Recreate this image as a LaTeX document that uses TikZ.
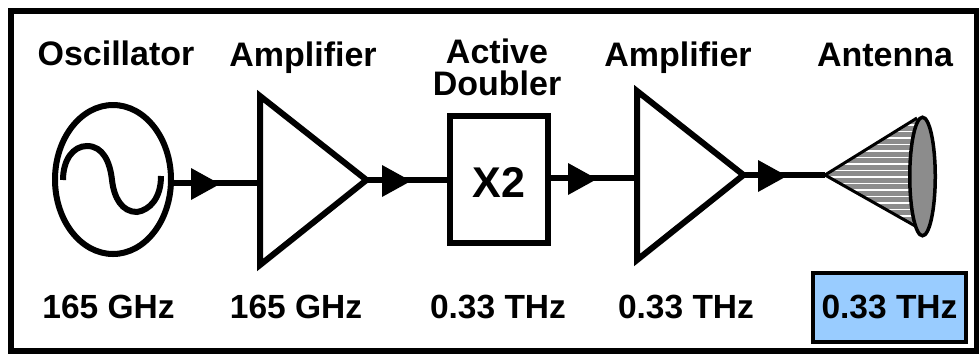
\documentclass[tikz,border=0pt]{standalone}
\usepackage{fontspec}
\setmainfont{Liberation Sans}
\usetikzlibrary{shapes.geometric}
\definecolor{freqblue}{HTML}{99CCFF}
\definecolor{horn}{HTML}{8C8C8C}
\tikzset{
  lbl/.style={font=\fontsize{34}{37}\selectfont\bfseries, anchor=base, inner sep=0pt},
  lblb/.style={font=\fontsize{33.5}{37}\selectfont\bfseries, anchor=base, inner sep=0pt},
  wire/.style={line width=6pt, black},
  outline/.style={line width=6pt, black, line join=miter},
  head/.style={fill=black, draw=none},
}
\newcommand{\headat}[2]{\fill[head] (#1,#2-16) -- (#1+29,#2) -- (#1,#2+16) -- cycle;}
\begin{document}
\begin{tikzpicture}[x=1pt,y=-1pt]
\useasboundingbox (0,0) rectangle (979,354);
\fill[white] (0,0) rectangle (979,354);
\draw[line width=6pt] (10.5,11) rectangle (977,351);

% coordinates
\coordinate (a1top) at (260,96);
\coordinate (a1bot) at (260,265);
\coordinate (a1in) at (260,183);
\coordinate (a1tip) at (366.5,180);
\coordinate (a2top) at (637,91);
\coordinate (a2bot) at (637,260);
\coordinate (a2in) at (637,178);
\coordinate (a2tip) at (743.5,175);
\coordinate (anttip) at (825,175);

% oscillator
\node[ellipse, draw, line width=6pt, minimum width=116pt, minimum height=149pt, inner sep=0pt, outer sep=0pt] (osc) at (113,179.5) {};
\draw[line width=6pt] (63,180) .. controls (63,160) and (73,146) .. (87,146)
   .. controls (103,146) and (110,162) .. (112,180)
   .. controls (114,198) and (122,212) .. (137,212)
   .. controls (150,210) and (161,198) .. (161,176);

% doubler
\node[draw, line width=6pt, minimum width=98pt, minimum height=127pt, inner sep=0pt, outer sep=0pt] (dbl) at (499,179.5) {};
\node[font=\fontsize{43}{43}\selectfont\bfseries, anchor=base, inner sep=0pt] (x2) at (499,197) {X2};

% wires
\draw[wire] (osc.east |- a1in) -- (a1in);
\draw[wire] (a1tip) -- (dbl.west |- a1tip);
\draw[wire] (dbl.east |- a2in) -- (a2in);
\draw[wire] (a2tip) -- (anttip);

% amplifiers
\draw[outline,fill=white] (a1top) -- (a1tip) -- (a1bot) -- cycle;
\draw[outline,fill=white] (a2top) -- (a2tip) -- (a2bot) -- cycle;

% arrowheads
\headat{191}{184}
\headat{382}{181}
\headat{568}{179}
\headat{758}{176}

% antenna
\begin{scope}
  \clip (anttip) -- (917,118) -- (917,227) -- cycle;
  \fill[horn] (820,110) rectangle (925,240);
  \foreach \yy in {125,131.5,...,225} \draw[white,line width=1.1pt] (820,\yy) -- (925,\yy);
\end{scope}
\draw[line width=3pt,line join=round] (917,118) -- (anttip) -- (917,227);
\node[ellipse, draw, line width=3.5pt, fill=horn, minimum width=25.5pt, minimum height=118.5pt, inner sep=0pt] (dish) at (922.5,176.5) {};

% freq box
\node[draw, line width=4pt, fill=freqblue, minimum width=153pt, minimum height=69pt, inner sep=0pt, outer sep=0pt] (fbox) at (889.5,307.5) {};

% labels
\node[lbl] (t1) at (116,65.5) {Oscillator};
\node[lbl] (t2) at (303,66) {Amplifier};
\node[lbl] (t3a) at (497,63) {Active};
\node[lbl] (t3b) at (497,95) {Doubler};
\node[lbl] (t4) at (678,66) {Amplifier};
\node[lbl] (t5) at (885,66) {Antenna};
\node[lblb] (b1) at (108.5,318) {165 GHz};
\node[lblb] (b2) at (296,318) {165 GHz};
\node[lblb] (b3) at (498,318) {0.33 THz};
\node[lblb] (b4) at (686,318) {0.33 THz};
\node[lblb] (b5) at (889.5,318) {0.33 THz};
\end{tikzpicture}
\end{document}
